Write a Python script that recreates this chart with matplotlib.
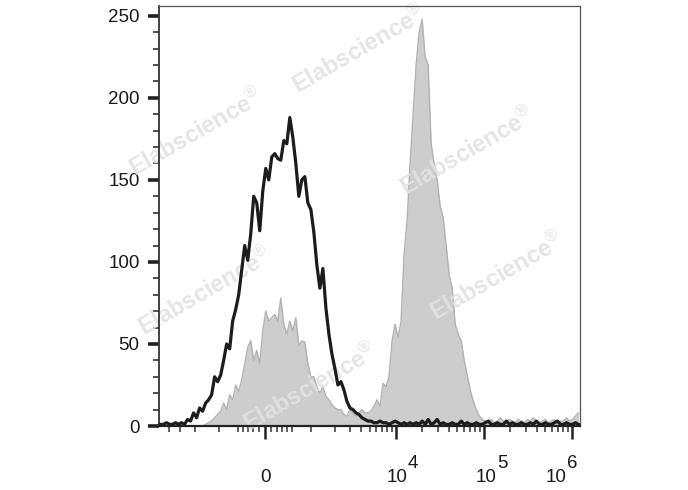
import numpy as np
import matplotlib
matplotlib.use("Agg")
import matplotlib.pyplot as plt
from matplotlib.ticker import FixedLocator, NullFormatter

plt.rcParams["font.family"] = ["Liberation Sans", "DejaVu Sans"]
plt.rcParams["mathtext.fontset"] = "custom"
plt.rcParams["mathtext.rm"] = "Liberation Sans"

# ---- biexponential (asinh) display channels ------------------------------
COFACTOR = 650.0
N_CHANNELS = 140
CHANNEL_RANGE = (-2.775, 8.246)   # asinh units covered by the plot

# events per channel
isotype_counts = [
    1, 1, 2, 1, 1, 2, 1, 2, 1, 4,
    3, 8, 5, 11, 9, 14, 16, 19, 30, 27,
    31, 40, 50, 47, 64, 71, 80, 95, 110, 101,
    117, 140, 136, 119, 143, 157, 150, 164, 166, 163,
    162, 174, 172, 188, 176, 160, 140, 150, 152, 136,
    132, 118, 98, 84, 96, 72, 56, 44, 35, 25,
    27, 22, 15, 11, 10, 8, 7, 5, 4, 3,
    3, 2, 2, 3, 2, 2, 1, 2, 3, 2,
    1, 2, 1, 2, 1, 2, 1, 3, 1, 4,
    1, 2, 4, 1, 2, 1, 1, 2, 1, 1,
    3, 1, 2, 1, 1, 2, 1, 1, 2, 3,
    1, 1, 2, 1, 1, 3, 1, 2, 1, 1,
    2, 1, 1, 2, 1, 3, 1, 1, 2, 1,
    1, 2, 3, 1, 1, 2, 1, 1, 2, 1,
]
stained_counts = [
    0, 0, 0, 0, 0, 0, 0, 0, 0, 0,
    0, 0, 0, 0, 0, 1, 2, 3, 5, 7,
    9, 14, 10, 19, 16, 25, 21, 28, 38, 48,
    52, 40, 46, 38, 58, 70, 64, 66, 68, 64,
    78, 62, 56, 64, 58, 66, 49, 52, 51, 38,
    30, 30, 24, 20, 24, 18, 16, 13, 11, 10,
    10, 7, 6, 10, 8, 6, 8, 10, 8, 8,
    9, 12, 16, 12, 26, 24, 30, 52, 62, 54,
    64, 105, 125, 160, 190, 220, 240, 248, 225, 220,
    172, 160, 150, 134, 127, 110, 92, 84, 62, 56,
    52, 40, 31, 22, 15, 10, 6, 4, 3, 3,
    4, 2, 3, 5, 3, 2, 4, 3, 2, 4,
    3, 2, 4, 3, 5, 3, 2, 3, 4, 2,
    3, 4, 2, 3, 3, 5, 3, 4, 6, 8,
]

y_major = [0, 50, 100, 150, 200, 250]
x_major = [0, 1e4, 1e5, 1e6]
x_base = ["0", "10", "10", "10"]
x_exp = [None, "4", "5", "6"]
x_minor = ([-4000, -3000, -2000, -1000] + list(range(-500, 501, 100))
           + [m * 10 ** d for d in (3, 4, 5) for m in range(1, 10)])

# label offsets (points) relative to each major tick
base_dx = [0, 1.1, 1.4, -11.5]
exp_dx = [None, 8.6, 9.4, -3.6]

WATERMARK = "Elabscience$^{\u00ae}$"
wm_centres = [(196, 133), (359, 50), (467, 152),
              (205, 292), (497, 277), (310, 388)]


def fwd(x):
    return np.arcsinh(np.asarray(x, dtype=float) / COFACTOR)


def inv(t):
    return COFACTOR * np.sinh(np.asarray(t, dtype=float))


edges_t = np.linspace(CHANNEL_RANGE[0], CHANNEL_RANGE[1], N_CHANNELS + 1)
centres = inv(0.5 * (edges_t[:-1] + edges_t[1:]))

W, H = 688, 490
fig = plt.figure(figsize=(W / 100, H / 100), dpi=100)
ax = fig.add_axes([159 / W, 1 - 426 / H, 421 / W, 420 / H])
ax.set_xscale("function", functions=(fwd, inv))

stained = np.array(stained_counts, float)
isotype = np.array(isotype_counts, float)
ax.fill_between(centres, 0, stained, color="#cdcdcd", lw=0, zorder=1)
ax.plot(centres, stained, color="#b2b2b2", lw=1.0, zorder=1.2)
ax.plot(centres, isotype, color="#1c1c1c", lw=2.3, zorder=3)

for cx, cy in wm_centres:
    ax.text(cx / W, 1 - cy / H, WATERMARK, transform=fig.transFigure,
            rotation=30, ha="center", va="center", fontsize=17,
            fontweight="bold", color="#e2e2e2", alpha=0.9, zorder=2)

ax.set_xlim(inv(CHANNEL_RANGE[0]), inv(CHANNEL_RANGE[1]))
ax.set_ylim(0, 256)

ax.yaxis.set_major_locator(FixedLocator(y_major))
ax.yaxis.set_minor_locator(FixedLocator(range(0, 251, 10)))
ax.xaxis.set_major_locator(FixedLocator(x_major))
ax.xaxis.set_minor_locator(FixedLocator(x_minor))
ax.xaxis.set_major_formatter(NullFormatter())
ax.xaxis.set_minor_formatter(NullFormatter())

ax.tick_params(axis="y", which="major", length=8, width=2.6, pad=6,
               labelsize=13.5, color="#222222", labelcolor="#1a1a1a")
ax.tick_params(axis="y", which="minor", length=4.2, width=1.2,
               color="#333333")
ax.tick_params(axis="x", which="major", length=9, width=1.8,
               color="#222222")
ax.tick_params(axis="x", which="minor", length=4.5, width=1.1,
               color="#333333")

ax.spines["left"].set(lw=1.3, color="#333333")
ax.spines["bottom"].set(lw=1.6, color="#222222")
for s in ("top", "right"):
    ax.spines[s].set(lw=0.9, color="#555555")

for val, base, exp, bdx, edx in zip(x_major, x_base, x_exp, base_dx, exp_dx):
    ax.annotate(base, xy=(val, 0), xycoords=("data", "axes fraction"),
                xytext=(bdx, -40.3), textcoords="offset points",
                ha="center", va="baseline", fontsize=13.5,
                color="#1a1a1a", annotation_clip=False)
    if exp:
        ax.annotate(exp, xy=(val, 0), xycoords=("data", "axes fraction"),
                    xytext=(edx, -30.2), textcoords="offset points",
                    ha="left", va="baseline", fontsize=13.5,
                    color="#1a1a1a", annotation_clip=False)

fig.savefig("out.png", dpi=100)
plt.close(fig)
